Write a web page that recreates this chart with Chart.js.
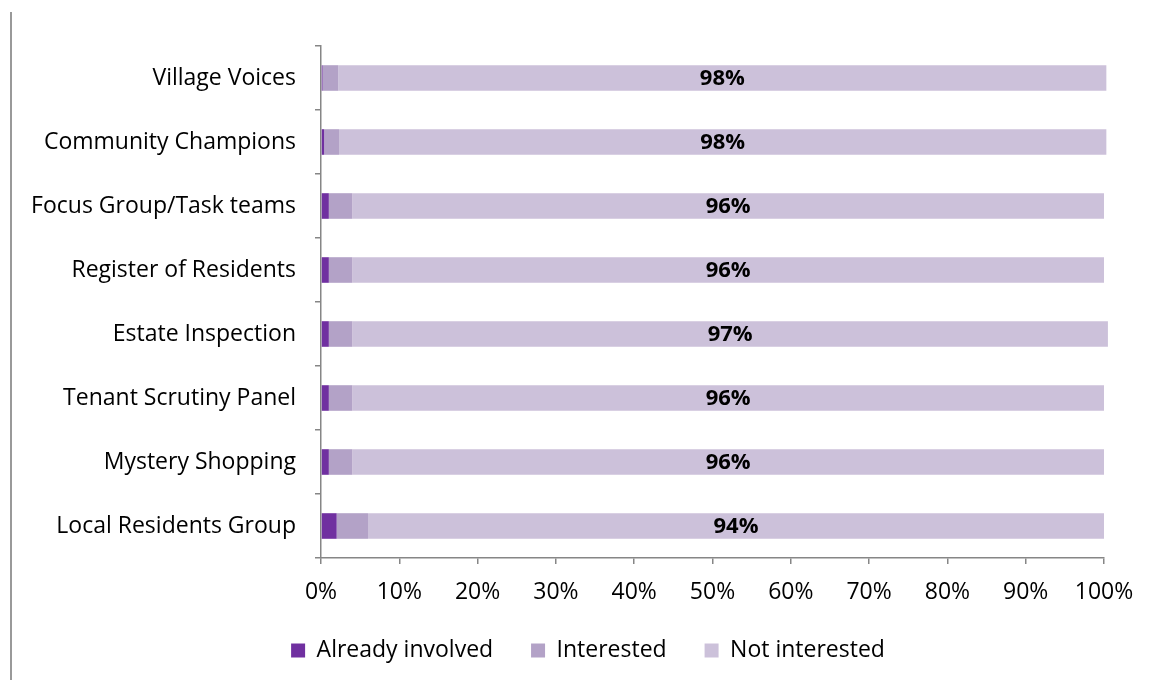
<!DOCTYPE html>
<html>
<head>
<meta charset="utf-8">
<script src="https://cdn.jsdelivr.net/npm/chart.js@4/dist/chart.umd.min.js"></script>
<style>
  html, body { margin: 0; padding: 0; background: #fff; }
  #wrap { position: relative; width: 1150px; height: 680px; }
  #edge { position: absolute; left: 10px; top: 12px; height: 668px; border-left: 2px solid #999; }
</style>
</head>
<body>
<div id="wrap">
  <div id="edge"></div>
  <canvas id="surveyChart" width="1150" height="680"></canvas>
</div>
<script>
// data
const categories = [
    'Village Voices',
    'Community Champions',
    'Focus Group/Task teams',
    'Register of Residents',
    'Estate Inspection',
    'Tenant Scrutiny Panel',
    'Mystery Shopping',
    'Local Residents Group'
];
const alreadyInvolved = [0.2, 0.4, 1, 1, 1, 1, 1, 2];
const interested      = [2.0, 1.9, 3, 3, 3, 3, 3, 4];
const notInterested   = [98.1, 98, 96, 96, 96.5, 96, 96, 94];
const xTicks = [0, 10, 20, 30, 40, 50, 60, 70, 80, 90, 100];

const labelFont = 'Open Sans';

// draws the bold % inside the "Not interested" segment
const segmentLabels = {
    id: 'segmentLabels',
    afterDatasetsDraw(chart) {
        const ctx = chart.ctx;
        const meta = chart.getDatasetMeta(2);
        ctx.save();
        ctx.font = 'bold 22px "' + labelFont + '"';
        ctx.fillStyle = '#000';
        ctx.textAlign = 'center';
        ctx.textBaseline = 'middle';
        meta.data.forEach(function (bar, i) {
            const p = bar.getProps(['x', 'y', 'base'], true);
            ctx.fillText(Math.round(notInterested[i]) + '%', (p.x + p.base) / 2, p.y + 1);
        });
        ctx.restore();
    }
};

let ctx = document.getElementById('surveyChart').getContext('2d');
let myChart = new Chart(ctx, {
    type: 'bar',
    data: {
        labels: categories,
        datasets: [{
            label: 'Already involved',
            data: alreadyInvolved,
            backgroundColor: '#7030A0'
        }, {
            label: 'Interested',
            data: interested,
            backgroundColor: '#B3A2C7'
        }, {
            label: 'Not interested',
            data: notInterested,
            backgroundColor: '#CCC1DA'
        }]
    },
    options: {
        indexAxis: 'y',
        responsive: false,
        animation: false,
        datasets: {
            bar: {
                barPercentage: 0.4,
                categoryPercentage: 1,
                borderWidth: 0,
                clip: false
            }
        },
        layout: {
            padding: { top: 46, right: 0, bottom: 8, left: 26 }
        },
        scales: {
            x: {
                stacked: true,
                min: 0,
                max: 100,
                afterBuildTicks: function (scale) {
                    scale.ticks = xTicks.map(v => ({ value: v }));
                },
                afterFit: function (scale) {
                    scale.height = 61;
                },
                ticks: {
                    color: '#000',
                    padding: 15,
                    font: { family: labelFont, size: 23 },
                    callback: v => v + '%'
                },
                grid: {
                    drawOnChartArea: false,
                    tickLength: 6,
                    color: '#868686',
                    lineWidth: 1.5
                },
                border: { color: '#868686', width: 1.5 }
            },
            y: {
                stacked: true,
                afterFit: function (scale) {
                    scale.width = 295;
                },
                ticks: {
                    color: '#000',
                    padding: 19,
                    font: { family: labelFont, size: 23 }
                },
                grid: {
                    offset: true,
                    drawOnChartArea: false,
                    tickLength: 6,
                    color: '#868686',
                    lineWidth: 1.5
                },
                border: { color: '#868686', width: 1.5 }
            },
            // empty right-hand spacer so the plot ends at 100% like the original
            yRight: {
                type: 'category',
                position: 'right',
                afterFit: function (scale) {
                    scale.width = 46;
                },
                ticks: { display: false },
                grid: { display: false },
                border: { display: false }
            }
        },
        plugins: {
            tooltip: { enabled: false },
            legend: {
                position: 'bottom',
                labels: {
                    boxWidth: 14,
                    boxHeight: 14,
                    padding: 20,
                    color: '#000',
                    font: { family: labelFont, size: 23 },
                    generateLabels: function (chart) {
                        const items = Chart.defaults.plugins.legend.labels.generateLabels(chart);
                        items.forEach(function (item, i) {
                            if (i < items.length - 1) item.text += '   ';
                        });
                        return items;
                    }
                }
            }
        }
    },
    plugins: [segmentLabels]
});
</script>
</body>
</html>
